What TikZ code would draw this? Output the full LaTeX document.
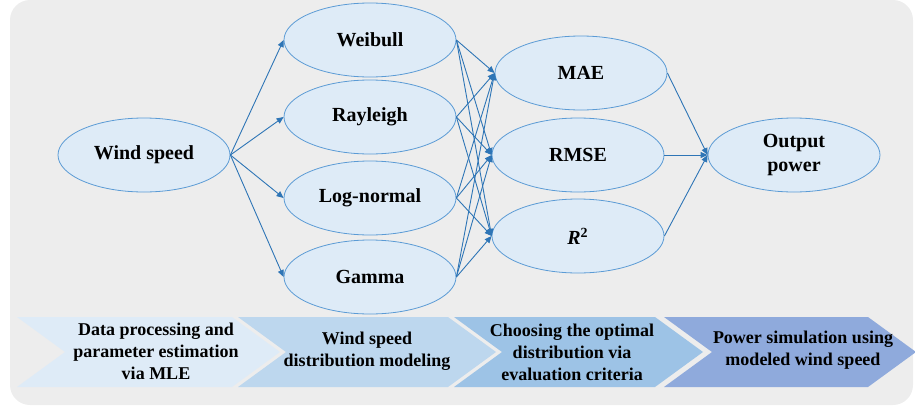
\documentclass[tikz,border=0pt]{standalone}
\usepackage{fontspec}
\setmainfont{Liberation Serif}
\usetikzlibrary{shapes.geometric, arrows.meta, positioning}

\definecolor{bggray}{HTML}{EDEDED}
\definecolor{ovalfill}{HTML}{DEEBF7}
\definecolor{ovalline}{HTML}{5B9BD5}
\definecolor{linkblue}{HTML}{2E75B6}
\definecolor{stepa}{HTML}{DEEBF7}
\definecolor{stepb}{HTML}{BDD7EE}
\definecolor{stepc}{HTML}{9DC3E6}
\definecolor{stepd}{HTML}{8FAADC}

\begin{document}
\begin{tikzpicture}[x=0.5pt, y=-0.5pt, >={Triangle[length=3.5pt, width=3pt]},
    oval/.style={ellipse, draw=ovalline, fill=ovalfill, line width=0.4pt,
        minimum width=86pt, minimum height=37pt, inner sep=0pt,
        font=\bfseries, align=center},
    link/.style={->, draw=linkblue, line width=0.45pt},
    steptext/.style={font=\bfseries\small, align=center, inner sep=0pt}]

    \useasboundingbox (0,0) rectangle (915,407);
    \fill[bggray, rounded corners=10pt] (10,0) rectangle (913,405);

    % Nodes (ellipses)
    \node[oval] (wind) at (144,155) {Wind speed};
    \node[oval] (weibull) at (370,40) {Weibull};
    \node[oval] (rayleigh) at (370,117) {Rayleigh};
    \node[oval] (lognormal) at (370,198) {Log-normal};
    \node[oval] (gamma) at (370,277) {Gamma};
    \node[oval] (mae) at (581,73) {MAE};
    \node[oval] (rmse) at (578,155) {RMSE};
    \node[oval] (rsq) at (578,236) {\textit{R}\textsuperscript{2}};
    \node[oval] (power) at (794,155) {Output\\power};

    % Wind speed to distributions
    \draw[link] (wind.east) -- (weibull.west);
    \draw[link] (wind.east) -- (rayleigh.west);
    \draw[link] (wind.east) -- (lognormal.west);
    \draw[link] (wind.east) -- (gamma.west);

    % Distributions to criteria
    \draw[link] (weibull.east) -- (mae.west);
    \draw[link] (weibull.east) -- (rmse.west);
    \draw[link] (weibull.east) -- (rsq.west);
    \draw[link] (rayleigh.east) -- (mae.west);
    \draw[link] (rayleigh.east) -- (rmse.west);
    \draw[link] (rayleigh.east) -- (rsq.west);
    \draw[link] (lognormal.east) -- (mae.west);
    \draw[link] (lognormal.east) -- (rmse.west);
    \draw[link] (lognormal.east) -- (rsq.west);
    \draw[link] (gamma.east) -- (mae.west);
    \draw[link] (gamma.east) -- (rmse.west);
    \draw[link] (gamma.east) -- (rsq.west);

    % Criteria to output power
    \draw[link] (mae.east) -- (power.west);
    \draw[link] (rmse.east) -- (power.west);
    \draw[link] (rsq.east) -- (power.west);

    % Process steps (chevrons)
    \fill[stepa] (17,317) -- (232,317) -- (280,352) -- (232,387) -- (17,387) -- (65,352) -- cycle;
    \fill[stepb] (238,317) -- (448,317) -- (496,352) -- (448,387) -- (238,387) -- (286,352) -- cycle;
    \fill[stepc] (454,317) -- (655,317) -- (703,352) -- (655,387) -- (454,387) -- (502,352) -- cycle;
    \fill[stepd] (664,317) -- (868,317) -- (916,352) -- (868,387) -- (664,387) -- (712,352) -- cycle;

    \node[steptext] (stepone) at (156,351) {Data processing and\\parameter estimation\\via MLE};
    \node[steptext] (steptwo) at (367,351) {Wind speed\\distribution modeling};
    \node[steptext] (stepthree) at (572,352) {Choosing the optimal\\distribution via\\evaluation criteria};
    \node[steptext] (stepfour) at (803,350) {Power simulation using\\modeled wind speed};

\end{tikzpicture}
\end{document}
